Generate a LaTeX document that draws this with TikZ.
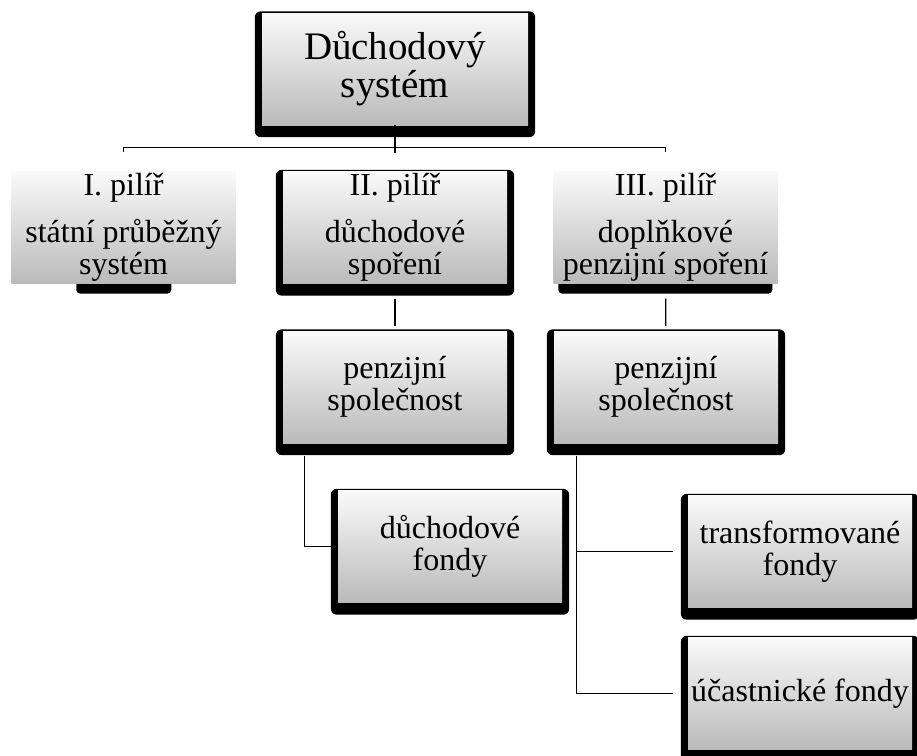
\documentclass[tikz,border=0pt]{standalone}
\usepackage{fontspec}
\setmainfont{Liberation Serif}
\usetikzlibrary{positioning,calc,backgrounds}

% black frame behind a box (thin on top, thick at the bottom)
\newcommand{\blackframe}[1]{%
  \fill[black, rounded corners=6pt] ($(#1.north west)+(-7,-1.5)$) rectangle ($(#1.south east)+(7,12)$);}
% dark strip under a box without a frame
\newcommand{\blackstrip}[3]{%
  \fill[black, rounded corners=4pt] ($(#1.south west)+(#2,-4)$) rectangle ($(#1.south west)+(#3,10)$);}

\begin{document}
\begin{tikzpicture}[
  x=1pt, y=-1pt,
  every node/.style={font=\fontsize{32}{32}\selectfont},
  box/.style={inner sep=0pt, align=center, minimum width=224pt, minimum height=112pt,
    top color=black!2, bottom color=black!27},
  conn/.style={line width=1.3pt}
]
\useasboundingbox (0,0) rectangle (917,755);

% Nodes
\node[box, minimum width=266pt, font=\fontsize{39}{38}\selectfont] (sys) at (395,69) {Důchodový\\systém};
\node[box] (p1) at (123.5,227.5) {I. pilíř\\[15pt]státní průběžný\\systém};
\node[box] (p2) at (395,227.5) {II. pilíř\\[15pt]důchodové\\spoření};
\node[box] (p3) at (665.5,227.5) {III. pilíř\\[15pt]doplňkové\\penzijní spoření};
\node[box] (ps1) at (395,387) {penzijní\\společnost};
\node[box] (ps2) at (666,387) {penzijní\\společnost};
\node[box] (df) at (450,546.5) {důchodové\\fondy};
\node[box] (tf) at (800,551.5) {transformované\\fondy};
\node[box] (uf) at (800,693.5) {účastnické fondy};

% Frames
\begin{scope}[on background layer]
  \blackframe{sys}
  \blackframe{p2}
  \blackframe{ps1}
  \blackframe{ps2}
  \blackframe{df}
  \blackframe{tf}
  \blackframe{uf}
  \blackstrip{p1}{65}{160}
  \blackstrip{p3}{5}{219}
\end{scope}

% Connectors
\draw[conn] (sys.south) -- ++(0,28);
\draw[conn] ([yshift=19pt]p1.north) |- ([yshift=24pt]p2.north) -| ([yshift=19pt]p3.north);
\draw[conn, shorten <=15pt, shorten >=5pt] (p2) -- (ps1);
\draw[conn, shorten <=15pt, shorten >=5pt] (p3) -- (ps2);
\draw[conn] ([xshift=22pt,yshift=-13pt]ps1.south west) |- ([xshift=-7pt]df.west);
\coordinate (trunk) at ([xshift=23pt,yshift=-13pt]ps2.south west);
\draw[conn] (trunk) |- ([xshift=-15pt]uf.west);
\draw[conn] (trunk |- tf.west) -- ([xshift=-15pt]tf.west);

\end{tikzpicture}
\end{document}
